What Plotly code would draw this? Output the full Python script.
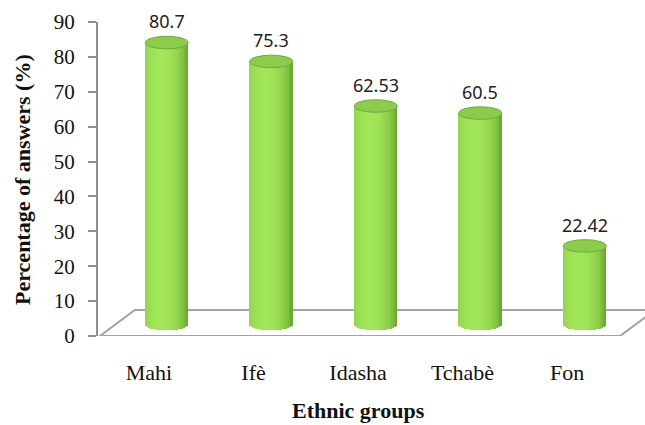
import numpy as np
import plotly.graph_objects as go

# Survey results by ethnic group
groups = ["Mahi", "Ifè", "Idasha", "Tchabè", "Fon"]
percent = [80.7, 75.3, 62.53, 60.5, 22.42]
y_ticks = [0, 10, 20, 30, 40, 50, 60, 70, 80, 90]

# pseudo-3D geometry (axis units)
pos = np.arange(len(groups), dtype=float)
DX = 0.17      # horizontal shift of bars toward the back of the floor
DY = 3.4       # vertical shift of bars toward the back of the floor
FLOOR_DX = 0.335
FLOOR_DY = 7.45
BAR_W = 0.41
RY = 1.8       # half-height of the cylinder end ellipses
N = 24         # vertical shading stripes per cylinder

dark = np.array([0x5E, 0x9A, 0x28])
light = np.array([0xA2, 0xE6, 0x5A])


def shade(t):
    f = 1 - ((t + 0.25) / 1.25) ** 2
    f = max(0.0, min(1.0, f)) ** 0.6
    c = dark + (light - dark) * f
    return "rgb({},{},{})".format(*[int(round(v)) for v in c])


fig = go.Figure()
sw = BAR_W / N
for k in range(N):
    t = -1 + (k + 0.5) * 2 / N
    sag = RY * np.sqrt(max(0.0, 1 - t * t))
    col = shade(t)
    common = dict(
        x=pos + DX,
        width=sw * 1.08,
        offset=-BAR_W / 2 + k * sw - sw * 0.04,
        marker=dict(color=col, line=dict(width=0)),
        showlegend=False,
        hoverinfo="skip",
    )
    # cylinder body
    fig.add_trace(go.Bar(y=percent, base=[DY] * len(percent), **common))
    # rounded lower end
    fig.add_trace(go.Bar(y=[sag] * len(percent), base=[DY - sag] * len(percent), **common))

shapes = []
# floor of the 3D plot
x_front0 = -0.47
x_front1 = 4.507
shapes.append(dict(
    type="path", xref="x", yref="y", layer="below",
    path=f"M {x_front0},0 L {x_front0 + FLOOR_DX},{FLOOR_DY} L {x_front1 + FLOOR_DX},{FLOOR_DY} "
         f"L {x_front1},0 Z",
    line=dict(color="#A3A3A3", width=2), fillcolor="rgba(0,0,0,0)",
))

# top ellipses of the cylinders
for p, v in zip(pos, percent):
    cx, cy = p + DX, DY + v
    shapes.append(dict(
        type="circle", xref="x", yref="y", layer="above",
        x0=cx - BAR_W / 2, x1=cx + BAR_W / 2, y0=cy - RY, y1=cy + RY,
        fillcolor="#8CCB4C", line=dict(color="#70A83A", width=1),
    ))

annotations = []
for p, v in zip(pos, percent):
    annotations.append(dict(
        x=p + DX, y=DY + v + RY, xref="x", yref="y",
        text=f"{v:g}", showarrow=False, yanchor="bottom", yshift=1,
        font=dict(family="Noto Sans", size=18, color="#222222"),
    ))

annotations.append(dict(
    x=-0.139, y=0.5, xref="paper", yref="paper", textangle=-90,
    text="<b>Percentage of answers (%)</b>", showarrow=False,
    xanchor="center", yanchor="middle",
    font=dict(family="Liberation Serif", size=22, color="#111111"),
))
annotations.append(dict(
    x=(358 - 98) / 547, y=-(410 - 336) / 314, xref="paper", yref="paper",
    text="<b>Ethnic groups</b>", showarrow=False,
    xanchor="center", yanchor="middle",
    font=dict(family="Liberation Serif", size=22, color="#111111"),
))

fig.update_layout(
    width=645, height=425,
    margin=dict(l=98, r=0, t=22, b=89),
    paper_bgcolor="white", plot_bgcolor="white",
    barmode="overlay", bargap=0,
    shapes=shapes, annotations=annotations,
    showlegend=False,
)
fig.update_xaxes(
    range=[-0.488, 4.746], tickvals=list(pos), ticktext=groups,
    showgrid=False, zeroline=False, showline=False, ticks="",
    ticklabelstandoff=21,
    tickfont=dict(family="Liberation Serif", size=22, color="#111111"),
)
fig.update_yaxes(
    range=[0, 90], tickvals=y_ticks, showgrid=False, zeroline=False,
    showline=True, linecolor="#8E8E8E", linewidth=2,
    ticks="outside", ticklen=8, tickwidth=2, tickcolor="#8E8E8E",
    ticklabelstandoff=9,
    tickfont=dict(family="Liberation Serif", size=21, color="#111111"),
)

fig.write_html("out.html")
